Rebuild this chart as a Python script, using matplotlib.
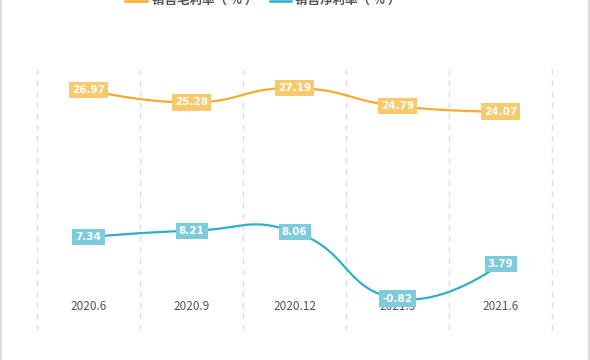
import matplotlib
matplotlib.use("Agg")
import matplotlib.pyplot as plt
import numpy as np
from matplotlib.lines import Line2D

plt.rcParams['font.family'] = ['Noto Sans CJK SC', 'DejaVu Sans']

categories = ["2020.6", "2020.9", "2020.12", "2021.3", "2021.6"]
gross_margin = [26.97, 25.28, 27.19, 24.79, 24.07]
net_margin = [7.34, 8.21, 8.06, -0.82, 3.79]
series_names = ["销售毛利率（ % ）", "销售净利率（ % ）"]

line_colors = ["#f5ab2c", "#2fafc5"]
box_colors = ["#f9c96e", "#7ecbdb"]

W, H = 590, 360
fig = plt.figure(figsize=(W / 100, H / 100), dpi=100)
ax = fig.add_axes([37 / W, 1 - 330 / H, (552 - 37) / W, (330 - 67) / H])
ax.set_xlim(-0.5, len(categories) - 0.5)
ax.set_ylim(-5, 30)
for s in ax.spines.values():
    s.set_visible(False)
ax.set_xticks([])
ax.set_yticks([])

# vertical dashed grid at category boundaries
for b in np.arange(-0.5, len(categories), 1.0):
    ax.axvline(b, color="#dcdcdc", lw=1, ls=(0, (4, 4)), zorder=0, clip_on=False)

fig.canvas.draw()


def smooth_curve(xs, ys, smooth=0.5, n=40):
    pts = ax.transData.transform(np.column_stack([xs, ys]))
    m = len(pts)
    cps_in, cps_out = [], []
    for i in range(m):
        p = pts[i]
        if i == 0 or i == m - 1:
            cps_in.append(p.copy())
            cps_out.append(p.copy())
            continue
        prv, nxt = pts[i - 1], pts[i + 1]
        v = (nxt - prv) * smooth
        d0 = np.linalg.norm(p - prv)
        d1 = np.linalg.norm(p - nxt)
        s = d0 + d1
        r0, r1 = d0 / s, d1 / s
        cps_in.append(p - v * r0)
        cps_out.append(p + v * r1)
    out = []
    t = np.linspace(0, 1, n)[:, None]
    for i in range(m - 1):
        p0, p1, p2, p3 = pts[i], cps_out[i], cps_in[i + 1], pts[i + 1]
        seg = ((1 - t) ** 3) * p0 + 3 * ((1 - t) ** 2) * t * p1 + 3 * (1 - t) * t ** 2 * p2 + t ** 3 * p3
        out.append(seg)
    out = np.vstack(out)
    return ax.transData.inverted().transform(out)


x = np.arange(len(categories))
for vals, lc, bc in zip([gross_margin, net_margin], line_colors, box_colors):
    c = smooth_curve(x, vals)
    ax.plot(c[:, 0], c[:, 1], color=lc, lw=1.6, zorder=2, solid_capstyle="round")
    for xi, v in zip(x, vals):
        ax.text(xi, v, f"{v:.2f}", ha="center", va="center", color="white",
                fontsize=7.5, fontweight="bold", family="DejaVu Sans", zorder=4,
                bbox=dict(boxstyle="square,pad=0.3", fc=bc, ec="none"))

for xi, cat in zip(x, categories):
    ax.text(xi, 1 - (307 - 67) / (330 - 67), cat, transform=ax.get_xaxis_transform(),
            ha="center", va="center", fontsize=8.5, color="#555555", zorder=3)

# legend (partially cut off at top)
for (x0, x1, tx), name, lc in zip([(125, 147, 152), (270, 291, 295)], series_names, line_colors):
    fig.add_artist(Line2D([x0 / W, x1 / W], [1 - 1 / H, 1 - 1 / H], color=lc, lw=1.8))
    fig.text(tx / W, 1 - 0.5 / H, name, ha="left", va="center", fontsize=9,
             fontweight="bold", color="#555555")

# borders
fig.add_artist(Line2D([0.5 / W, 0.5 / W], [0, 1], color="#dddddd", lw=1.5))
fig.add_artist(Line2D([589 / W, 589 / W], [0, 1], color="#dddddd", lw=2.5))

fig.savefig("out.png", dpi=100, facecolor="white")
